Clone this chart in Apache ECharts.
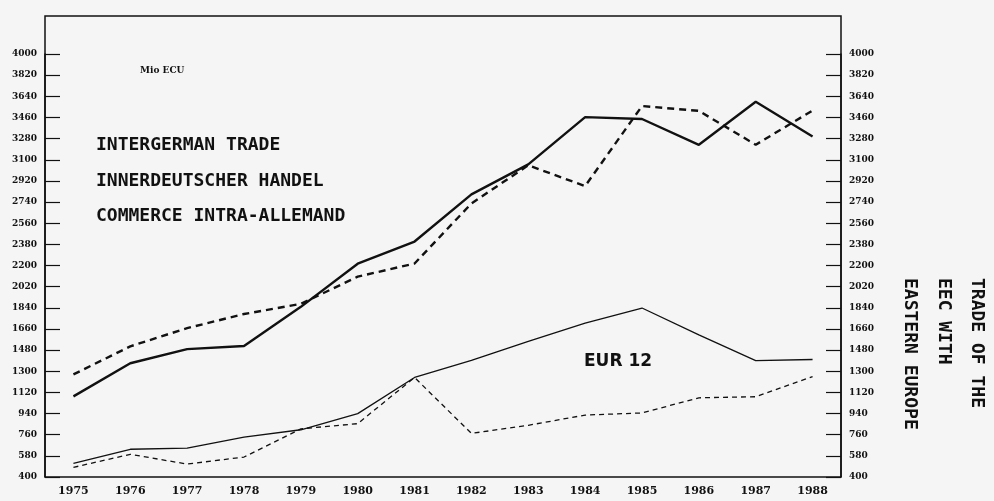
<!DOCTYPE html>
<html>
<head>
<meta charset="utf-8">
<title>Intergerman trade</title>
<script src="https://cdn.jsdelivr.net/npm/echarts@6/dist/echarts.min.js"></script>
<style>
  html, body { margin: 0; padding: 0; background: #f5f5f5; }
  #chart { width: 994px; height: 501px; }
</style>
</head>
<body>
<div id="chart"></div>
<script>
// years on the x axis
const years = ['1975', '1976', '1977', '1978', '1979', '1980', '1981',
               '1982', '1983', '1984', '1985', '1986', '1987', '1988'];

// intergerman trade (heavy lines)
const igSolid  = [1086, 1368, 1488, 1515, 1848, 2215, 2404, 2805, 3061, 3463, 3447, 3227, 3594, 3298];
const igDashed = [1273, 1512, 1667, 1787, 1874, 2105, 2217, 2728, 3053, 2876, 3557, 3516, 3228, 3519];

// EUR 12 trade with eastern europe (thin lines)
const eurSolid  = [516, 636, 646, 740, 802, 939, 1247, 1392, 1555, 1710, 1838, 1610, 1390, 1400];
const eurDashed = [482, 593, 510, 570, 810, 854, 1247, 771, 840, 927, 945, 1074, 1083, 1255];

const yMin = 400, yMax = 4000, yStep = 180;

const ink = '#111';
const labelFont = { color: ink, fontFamily: 'DejaVu Serif', fontWeight: 'bold', fontSize: 9 };
const mono = 'DejaVu Sans Mono';

const chart = echarts.init(document.getElementById('chart'));

function yAxisDef(pos) {
    return {
        type: 'value',
        position: pos,
        min: yMin,
        max: yMax,
        interval: yStep,
        axisLine: { show: true, lineStyle: { color: ink, width: 1.5 } },
        axisTick: { show: true, inside: true, length: 15, lineStyle: { color: ink, width: 1.2 } },
        axisLabel: Object.assign({ margin: 8, formatter: v => String(v) }, labelFont),
        splitLine: { show: false }
    };
}

function lineSeries(name, data, width, dash) {
    return {
        name: name,
        type: 'line',
        data: data,
        symbol: 'none',
        lineStyle: { color: ink, width: width, type: dash || 'solid' },
        z: 3
    };
}

chart.setOption({
    backgroundColor: '#f5f5f5',
    animation: false,
    grid: { left: 45, right: 153, top: 54, bottom: 24 },
    xAxis: {
        type: 'category',
        data: years,
        boundaryGap: true,
        axisLine: { lineStyle: { color: ink, width: 1.5 } },
        axisTick: { inside: true, length: 15, lineStyle: { color: ink, width: 1.5 } },
        axisLabel: { color: ink, fontFamily: 'DejaVu Serif', fontWeight: 'bold', fontSize: 11, margin: 9 }
    },
    yAxis: [yAxisDef('left'), yAxisDef('right')],
    graphic: [
        // frame top that sits above the 4000 tick
        { type: 'polyline', shape: { points: [[45, 477], [45, 16], [841, 16], [841, 477]] },
          style: { stroke: ink, lineWidth: 1.5, fill: null }, z: 1 },
        { type: 'text', left: 140, top: 66,
          style: { text: 'Mio ECU', fill: ink, font: 'bold 9px "DejaVu Serif"' } },
        { type: 'text', left: 96, top: 136,
          style: { text: 'INTERGERMAN TRADE', fill: ink, font: 'bold 18px "' + mono + '"' } },
        { type: 'text', left: 96, top: 172,
          style: { text: 'INNERDEUTSCHER HANDEL', fill: ink, font: 'bold 18px "' + mono + '"' } },
        { type: 'text', left: 96, top: 207,
          style: { text: 'COMMERCE INTRA-ALLEMAND', fill: ink, font: 'bold 18px "' + mono + '"' } },
        { type: 'text', left: 584, top: 353,
          style: { text: 'EUR 12', fill: ink, font: 'bold 17px "DejaVu Sans"' } },
        // vertical caption on the right
        { type: 'text', x: 977, y: 278, rotation: -Math.PI / 2,
          style: { text: 'TRADE OF THE', fill: ink, font: 'bold 18px "' + mono + '"',
                   textAlign: 'left', textVerticalAlign: 'middle' } },
        { type: 'text', x: 944, y: 278, rotation: -Math.PI / 2,
          style: { text: 'EEC WITH', fill: ink, font: 'bold 18px "' + mono + '"',
                   textAlign: 'left', textVerticalAlign: 'middle' } },
        { type: 'text', x: 910, y: 278, rotation: -Math.PI / 2,
          style: { text: 'EASTERN EUROPE', fill: ink, font: 'bold 18px "' + mono + '"',
                   textAlign: 'left', textVerticalAlign: 'middle' } }
    ],
    series: [
        lineSeries('Intergerman A', igSolid, 2.4),
        lineSeries('Intergerman B', igDashed, 2.4, [7, 5]),
        lineSeries('EUR 12 A', eurSolid, 1.3),
        lineSeries('EUR 12 B', eurDashed, 1.3, [5, 4])
    ]
});

window.addEventListener('resize', function() {
    chart.resize();
});
</script>
</body>
</html>
